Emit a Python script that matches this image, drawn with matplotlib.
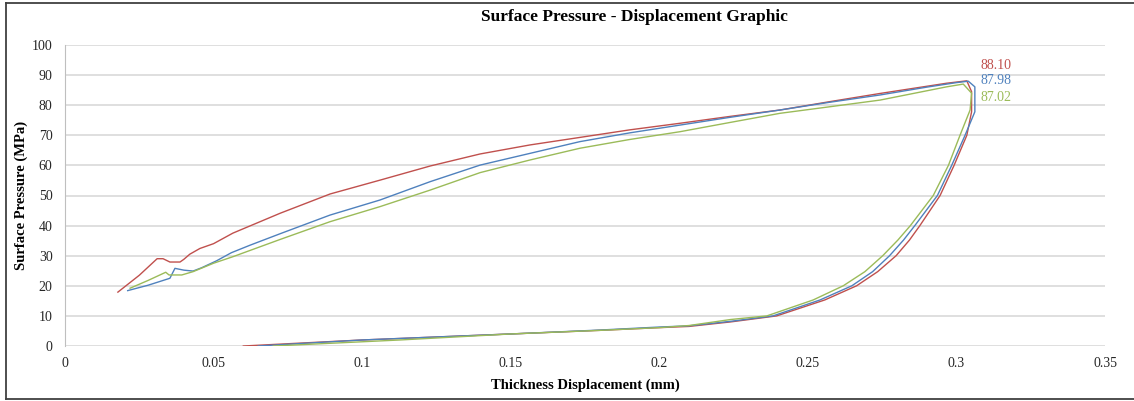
import matplotlib
matplotlib.use("Agg")
import matplotlib.pyplot as plt
from matplotlib.lines import Line2D

plt.rcParams['font.family'] = ['Liberation Serif', 'DejaVu Serif']

# sample 1 (red): loading branch, drop at the peak, unloading branch
red_x = [0.0178, 0.025, 0.031, 0.033, 0.0353, 0.0387, 0.040, 0.042, 0.0454, 0.050, 0.0565,
         0.0724, 0.0892, 0.106, 0.1229, 0.1397, 0.1565, 0.1733, 0.19, 0.207, 0.224, 0.2406,
         0.2575, 0.2743, 0.2967, 0.3035,
         0.3051, 0.3051,
         0.3035, 0.2992, 0.2945, 0.2877, 0.2842, 0.2797, 0.2735, 0.2664, 0.2557, 0.2395,
         0.224, 0.21, 0.2, 0.18, 0.15, 0.1127, 0.1, 0.06]
red_y = [17.9, 23.5, 29.0, 29.0, 27.9, 27.9, 28.8, 30.5, 32.4, 34.0, 37.5,
         44.1, 50.5, 55.1, 59.8, 63.8, 66.8, 69.3, 71.8, 74.0, 76.3, 78.4,
         81.2, 83.9, 87.3, 88.1,
         84.5, 77.8,
         70.0, 60.0, 50.0, 40.0, 35.2, 30.0, 24.7, 20.0, 15.3, 10.0,
         8.0, 6.5, 6.1, 5.2, 4.0, 2.5, 2.0, 0.0]

# sample 2 (blue)
blue_x = [0.0211, 0.028, 0.0353, 0.037, 0.040, 0.0431, 0.046, 0.051, 0.056, 0.0623, 0.0724,
          0.0892, 0.106, 0.1229, 0.1397, 0.1565, 0.1733, 0.19, 0.207, 0.224, 0.2406, 0.2575,
          0.2743, 0.29, 0.3, 0.304,
          0.3062, 0.3062,
          0.3029, 0.2984, 0.2936, 0.286, 0.2822, 0.2775, 0.2718, 0.2648, 0.2541, 0.2383,
          0.224, 0.21, 0.2, 0.18, 0.15, 0.1, 0.065]
blue_y = [18.4, 20.2, 22.5, 25.8, 25.2, 24.9, 26.0, 28.3, 31.0, 33.5, 37.3,
          43.5, 48.5, 54.6, 60.1, 64.0, 67.9, 70.8, 73.4, 76.0, 78.4, 81.0,
          83.4, 86.0, 87.5, 87.98,
          86.1, 77.8,
          70.0, 60.0, 50.0, 40.0, 35.2, 30.0, 24.7, 20.0, 15.3, 10.0,
          8.2, 6.7, 6.3, 5.3, 4.0, 2.0, 0.0]

# sample 3 (green)
green_x = [0.0219, 0.028, 0.0339, 0.035, 0.0393, 0.0431, 0.05, 0.0566, 0.0724,
           0.0892, 0.106, 0.1229, 0.1397, 0.1565, 0.1733, 0.19, 0.207, 0.224, 0.2406,
           0.2575, 0.2743, 0.2967, 0.3023,
           0.3051, 0.3046,
           0.3012, 0.2973, 0.2922, 0.2845, 0.2803, 0.2752, 0.2692, 0.2619, 0.2518, 0.2362,
           0.224, 0.21, 0.2, 0.18, 0.15, 0.1127, 0.0701]
green_y = [19.2, 21.8, 24.5, 23.6, 23.6, 24.7, 27.5, 29.7, 35.4,
           41.3, 46.3, 51.8, 57.6, 61.8, 65.7, 68.6, 71.2, 74.3, 77.3,
           79.5, 81.7, 86.1, 87.02,
           84.0, 78.4,
           70.0, 60.0, 50.0, 40.0, 35.2, 30.0, 24.7, 20.0, 15.3, 10.0,
           8.8, 6.8, 6.1, 5.2, 4.0, 2.0, 0.0]

peak_labels = ["88.10", "87.98", "87.02"]
peak_offsets = [15, 0, -17]
colors = ["#C0504D", "#4F81BD", "#9BBB59"]

x_ticks = [0, 0.05, 0.1, 0.15, 0.2, 0.25, 0.3, 0.35]
x_tick_labels = ["0", "0.05", "0.1", "0.15", "0.2", "0.25", "0.3", "0.35"]
y_ticks = list(range(0, 101, 10))

fig = plt.figure(figsize=(11.34, 4.01), dpi=100)
ax = fig.add_axes([65 / 1134, 55 / 401, 1040 / 1134, 301 / 401])

series = [(red_x, red_y), (blue_x, blue_y), (green_x, green_y)]
for (xs, ys), c in zip(series, colors):
    ax.plot(xs, ys, color=c, lw=1.0, zorder=3)

# peak value labels next to the highest peak
px = red_x[red_y.index(max(red_y))]
py = max(red_y)
for lab, off, c in zip(peak_labels, peak_offsets, colors):
    ax.annotate(lab, xy=(px, py), xytext=(14, off), textcoords='offset pixels',
                color=c, fontsize=10, va='center', ha='left')

ax.set_xlim(0, 0.35)
ax.set_ylim(0, 100)
ax.set_xticks(x_ticks)
ax.set_xticklabels(x_tick_labels)
ax.set_yticks(y_ticks)
ax.grid(axis='y', color='#d9d9d9', lw=1.2)
ax.set_axisbelow(True)
for side in ['top', 'right', 'bottom']:
    ax.spines[side].set_visible(False)
ax.spines['left'].set_color('#bfbfbf')
ax.tick_params(length=0, labelsize=10, colors='#262626')
ax.tick_params(axis='y', pad=9)
ax.tick_params(axis='x', pad=8)

ax.set_xlabel("Thickness Displacement (mm)", fontsize=10.5, fontweight='bold', labelpad=6)
ax.set_ylabel("Surface Pressure (MPa)", fontsize=10.5, fontweight='bold', labelpad=3)
fig.text(634 / 1134, 1 - 17 / 401, "Surface Pressure - Displacement Graphic",
         fontsize=12.5, fontweight='bold', ha='center', va='center')

# outer chart frame
for xs, ys in [([6, 1140], [398.5, 398.5]), ([6, 1140], [2.5, 2.5]), ([6, 6], [2.5, 398.5])]:
    fig.add_artist(Line2D([v / 1134 for v in xs], [1 - v / 401 for v in ys],
                          color='#404040', lw=1.3))

fig.savefig("out.png", dpi=100)
